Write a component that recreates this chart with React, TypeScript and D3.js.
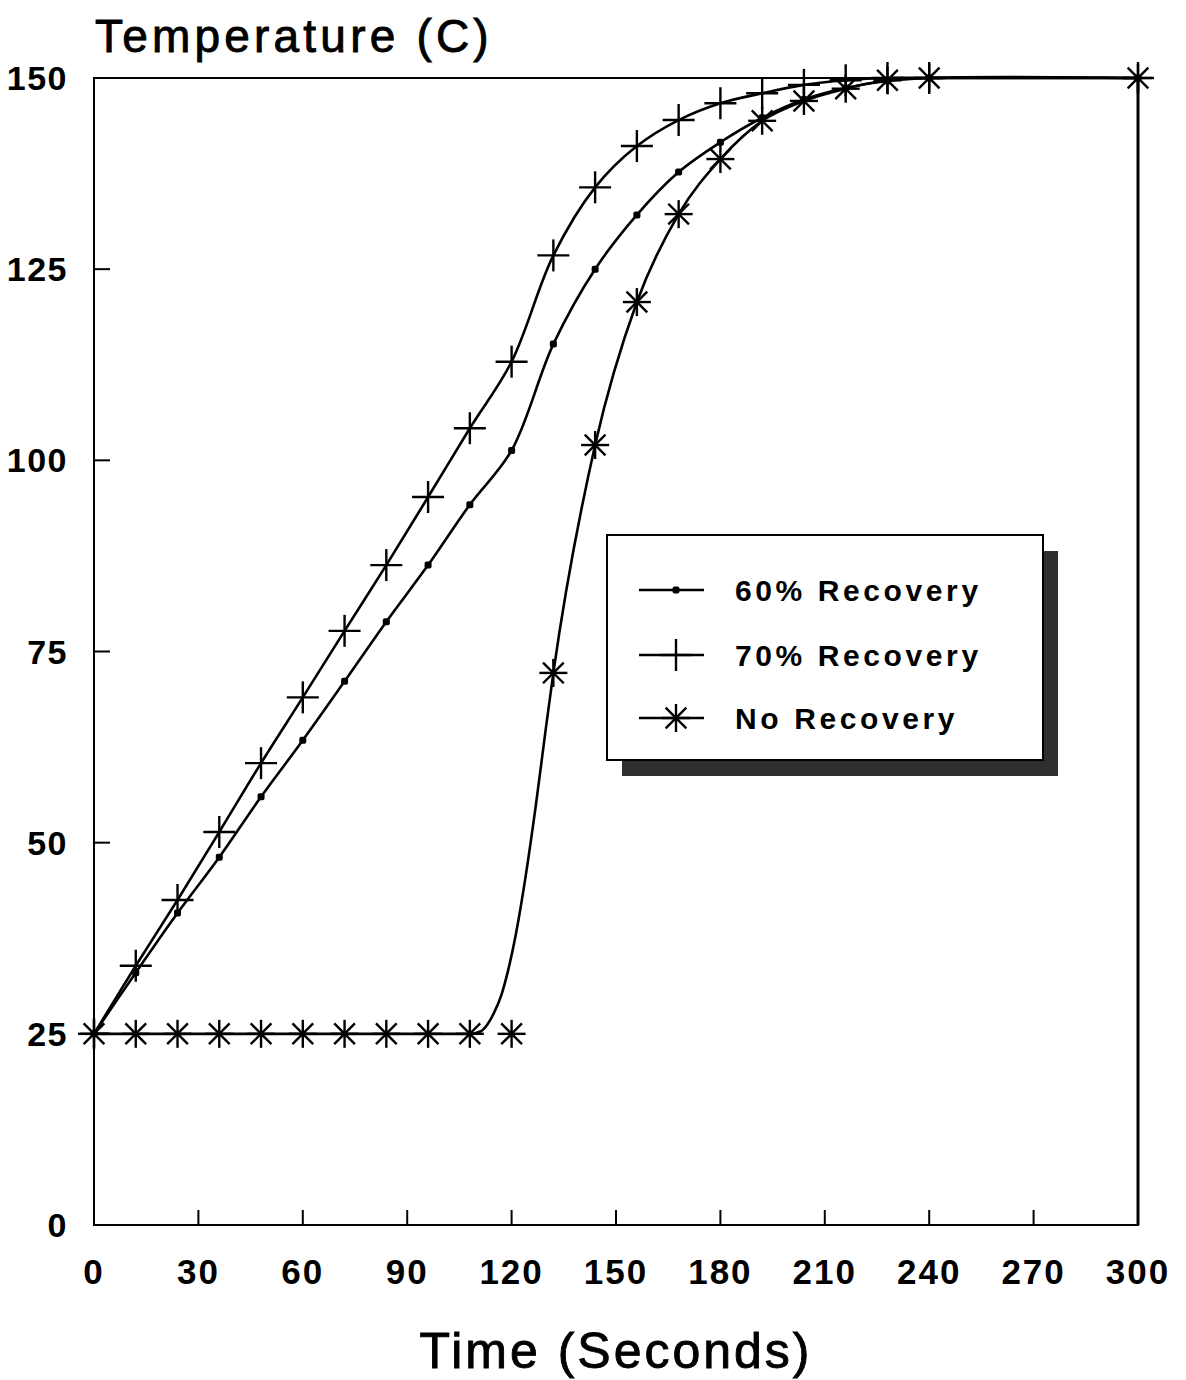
import React from "react";
import * as d3 from "d3";

// Sample times (seconds) at which markers are plotted
const times = [0, 12, 24, 36, 48, 60, 72, 84, 96, 108, 120, 132, 144, 156, 168, 180, 192, 204, 216, 228, 240, 300];

// Temperatures (C) for each recovery case at the sample times
const recovery60 = [25, 33.0, 40.8, 48.1, 56.0, 63.4, 71.1, 78.9, 86.3, 94.2, 101.3, 115.2, 125.0, 132.1, 137.7, 141.6, 144.8, 147.2, 148.7, 149.6, 150, 150];
const recovery70 = [25, 33.9, 42.5, 51.4, 60.4, 69.0, 77.7, 86.3, 95.2, 104.2, 112.9, 126.8, 135.7, 141.1, 144.5, 146.7, 148.0, 149.1, 149.7, 150, 150, 150];
const noRecovery = [25, 25, 25, 25, 25, 25, 25, 25, 25, 25, 25, 72.2, 102.0, 120.7, 132.2, 139.4, 144.4, 147.0, 148.6, 149.7, 150, 150];

// Smoothed trace of the no-recovery curve (seconds, C)
const noRecoveryTraceT = [0, 108, 111, 113, 115, 117, 119, 121, 124, 127, 130, 132, 144, 156, 168, 180, 192, 204, 216, 228, 240, 300];
const noRecoveryTraceV = [25, 25, 25.3, 26.2, 27.8, 30, 33.3, 37.5, 45.5, 55, 65.5, 72.2, 102.0, 120.7, 132.2, 139.4, 144.4, 147.0, 148.6, 149.7, 150, 150];

const xTicks = [0, 30, 60, 90, 120, 150, 180, 210, 240, 270, 300];
const yTicks = [0, 25, 50, 75, 100, 125, 150];

const legendItems = [
  { label: "60% Recovery", marker: "dot" },
  { label: "70% Recovery", marker: "plus" },
  { label: "No Recovery", marker: "star" },
];

const FONT = "'Liberation Sans', Arial, Helvetica, sans-serif";

function Marker({ kind, cx, cy }: { kind: string; cx: number; cy: number }) {
  if (kind === "dot") {
    return <rect x={cx - 3.5} y={cy - 3.5} width={7} height={7} rx={2} fill="#000" />;
  }
  if (kind === "plus") {
    const r = 16;
    return (
      <g stroke="#000" strokeWidth={2.4}>
        <line x1={cx - r} y1={cy} x2={cx + r} y2={cy} />
        <line x1={cx} y1={cy - r} x2={cx} y2={cy + r} />
      </g>
    );
  }
  const r = 14;
  const d = r * 0.74;
  return (
    <g stroke="#000" strokeWidth={2.4}>
      <line x1={cx - r} y1={cy} x2={cx + r} y2={cy} />
      <line x1={cx} y1={cy - r} x2={cx} y2={cy + r} />
      <line x1={cx - d} y1={cy - d} x2={cx + d} y2={cy + d} />
      <line x1={cx - d} y1={cy + d} x2={cx + d} y2={cy - d} />
    </g>
  );
}

export default function App() {
  const width = 1186;
  const height = 1380;
  const x = d3.scaleLinear().domain([0, 300]).range([94, 1138]);
  const y = d3.scaleLinear().domain([0, 150]).range([1225, 78]);

  const smooth = d3
    .line<[number, number]>()
    .x((d) => x(d[0]))
    .y((d) => y(d[1]))
    .curve(d3.curveCatmullRom.alpha(0.5));

  const monotone = d3
    .line<[number, number]>()
    .x((d) => x(d[0]))
    .y((d) => y(d[1]))
    .curve(d3.curveMonotoneX);

  const pts60 = times.map((t, i) => [t, recovery60[i]] as [number, number]);
  const pts70 = times.map((t, i) => [t, recovery70[i]] as [number, number]);
  const ptsNo = times.map((t, i) => [t, noRecovery[i]] as [number, number]);
  const traceNo = noRecoveryTraceT.map((t, i) => [t, noRecoveryTraceV[i]] as [number, number]);

  const [x0, x1] = x.range();
  const [y0, y1] = y.range();

  const legendBox = { x: 607, y: 535, w: 436, h: 225 };
  const legendRows = [590, 655, 718];

  return (
    <svg
      width={width}
      height={height}
      style={{ position: "absolute", left: 0, top: 0, background: "#fff" }}
      fontFamily={FONT}
    >
      <rect x={0} y={0} width={width} height={height} fill="#fff" />

      {/* Axis title (y) */}
      <text x={95} y={52} fontSize={46} letterSpacing={4.2} fill="#000" stroke="#000" strokeWidth={0.9}>
        Temperature (C)
      </text>

      {/* Plot frame */}
      <rect x={x0} y={y1} width={x1 - x0} height={y0 - y1} fill="none" stroke="#000" strokeWidth={2} />
      <line x1={x1} y1={y1} x2={x1} y2={y0} stroke="#000" strokeWidth={3} />

      {/* Inward ticks */}
      {xTicks.slice(1, -1).map((t) => (
        <line key={"xt" + t} x1={x(t)} x2={x(t)} y1={y0} y2={y0 - 15} stroke="#000" strokeWidth={2} />
      ))}
      {yTicks.slice(1, -1).map((v) => (
        <line key={"yt" + v} x1={x0} x2={x0 + 16} y1={y(v)} y2={y(v)} stroke="#000" strokeWidth={2} />
      ))}

      {/* Tick labels */}
      {xTicks.map((t) => (
        <text
          key={"xl" + t}
          x={x(t)}
          y={1284}
          fontSize={35}
          fontWeight="bold"
          letterSpacing={2}
          textAnchor="middle"
          fill="#000"
        >
          {t}
        </text>
      ))}
      {yTicks.map((v) => (
        <text
          key={"yl" + v}
          x={68}
          y={y(v) + 12}
          fontSize={34}
          fontWeight="bold"
          letterSpacing={1.5}
          textAnchor="end"
          fill="#000"
        >
          {v}
        </text>
      ))}

      {/* Axis title (x) */}
      <text
        x={616}
        y={1368}
        fontSize={50}
        letterSpacing={3}
        textAnchor="middle"
        fill="#000"
        stroke="#000"
        strokeWidth={0.9}
      >
        Time (Seconds)
      </text>

      {/* Curves */}
      <g fill="none" stroke="#000" strokeWidth={2.6}>
        <path d={smooth(pts60) ?? ""} />
        <path d={smooth(pts70) ?? ""} />
        <path d={monotone(traceNo) ?? ""} />
      </g>

      {/* Markers */}
      {pts60.map((p, i) => (
        <Marker key={"m60" + i} kind="dot" cx={x(p[0])} cy={y(p[1])} />
      ))}
      {pts70.map((p, i) => (
        <Marker key={"m70" + i} kind="plus" cx={x(p[0])} cy={y(p[1])} />
      ))}
      {ptsNo.map((p, i) => (
        <Marker key={"mno" + i} kind="star" cx={x(p[0])} cy={y(p[1])} />
      ))}

      {/* Legend */}
      <rect x={legendBox.x + 15} y={legendBox.y + 16} width={legendBox.w} height={legendBox.h} fill="#2f2f2f" />
      <rect
        x={legendBox.x}
        y={legendBox.y}
        width={legendBox.w}
        height={legendBox.h}
        fill="#fff"
        stroke="#000"
        strokeWidth={2}
      />
      {legendItems.map((item, i) => (
        <g key={"lg" + i}>
          <line x1={639} x2={704} y1={legendRows[i]} y2={legendRows[i]} stroke="#000" strokeWidth={2.4} />
          <Marker kind={item.marker} cx={676} cy={legendRows[i]} />
          <text
            x={735}
            y={legendRows[i] + 11}
            fontSize={30}
            fontWeight="bold"
            letterSpacing={3.6}
            fill="#000"
          >
            {item.label}
          </text>
        </g>
      ))}
    </svg>
  );
}
